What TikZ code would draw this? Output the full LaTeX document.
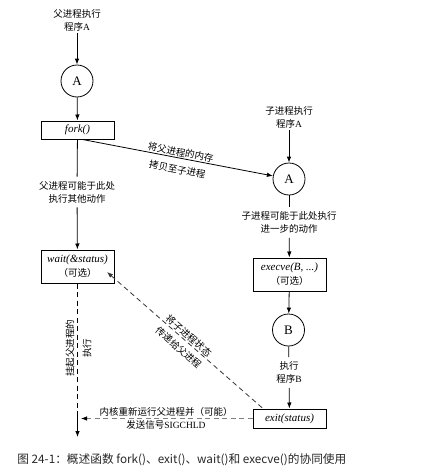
\documentclass[tikz,border=0pt]{standalone}
\usepackage{fontspec}
\setmainfont{Liberation Serif}
\newfontfamily\cjk{Noto Sans CJK SC}
\usetikzlibrary{arrows.meta,calc}
\begin{document}
\begin{tikzpicture}[x=1pt,y=-1pt,
  line width=0.8pt,
  arr/.style={-{Latex[length=6pt,width=4.5pt]}},
  lbl/.style={font=\fontsize{9.5}{13}\selectfont\cjk, align=center, inner sep=1pt},
  rlbl/.style={font=\fontsize{9.5}{17}\selectfont\cjk, align=center, inner sep=1pt},
  boxn/.style={draw, line width=1pt, minimum width=73pt, inner sep=0pt, align=center, font=\fontsize{11}{14}\selectfont\itshape},
  circ/.style={draw, circle, minimum size=32pt, inner sep=0pt, font=\fontsize{13}{13}\selectfont},
  dsh/.style={dash pattern=on 5pt off 3.5pt},
]
\useasboundingbox (0,0) rectangle (435,474);

% left column
\node[lbl] (t1) at (77,20.5) {父进程执行\\程序{\rmfamily A}};
\node[circ] (a1) at (77,81) {A};
\node[boxn, minimum height=18pt] (fork) at (77.5,130) {fork()};
\node[lbl, inner sep=4pt] (l1) at (77,192) {父进程可能于此处\\执行其他动作};
\node[boxn, minimum height=33pt] (wait) at (77.5,266.5) {wait(\&status)\\{\fontsize{9.5}{14}\selectfont\upshape\cjk （可选）}};

% right column
\node[lbl] (t2) at (289,117.5) {子进程执行\\程序{\rmfamily A}};
\node[circ] (a2) at (289,179) {A};
\node[lbl, inner sep=4pt] (l2) at (289,222.5) {子进程可能于此处执行\\进一步的动作};
\node[boxn, minimum height=33pt] (exec) at (289.5,274.5) {execve(B, ...)\\{\fontsize{9.5}{14}\selectfont\upshape\cjk （可选）}};
\node[circ] (b) at (288.5,330) {B};
\node[lbl, inner sep=4pt] (l3) at (289,372.5) {执行\\程序{\rmfamily B}};
\node[boxn, minimum height=19pt] (exit) at (289.5,418.5) {exit(status)};

% connectors
\draw[arr] (t1) -- (a1);
\draw[arr] (a1) -- (fork);
\draw (fork) -- (l1);
\draw[arr] (l1) -- (wait);
\draw[arr] (t2) -- (a2);
\draw (a2) -- (l2);
\draw[arr] (l2) -- (exec);
\draw[arr] (exec) -- (b);
\draw (b) -- (l3);
\draw[arr] (l3) -- (exit);

\draw[arr] ([xshift=5pt]fork.south) -- (a2)
  node[lbl, sloped, pos=0.51, above=0pt] (m1) {将父进程的内存}
  node[lbl, sloped, pos=0.51, below=6pt] (m2) {拷贝至子进程};

% wait suspension
\coordinate (kmid) at (77.5,413);
\coordinate (kbot) at (77.5,437);
\draw[dsh] (wait) -- (kmid);
\draw[arr] (kmid) -- (kbot);
\node[rlbl, rotate=90] (s1) at (78.5,348) {挂起父进程的\\执行};

% child status to parent
\coordinate (wtip) at (107,272);
\draw[{Latex[length=6pt,width=4.5pt]}-, dsh, draw=black!80] (wtip) -- ([xshift=-26.5pt]exit.north)
  node[lbl, sloped, pos=0.5, above=0pt] (m3) {将子进程状态}
  node[lbl, sloped, pos=0.5, below=4pt] (m4) {传递给父进程};

% kernel resumes parent
\coordinate (kin) at (81,418.5);
\draw[-{Latex[length=6pt,width=4.5pt,color=black]}, dsh, draw=black!50] (exit) -- (kin);
\node[lbl] (l4) at (166,418.5) {内核重新运行父进程并（可能）\\发送信号{\rmfamily SIGCHLD}};

% caption
\node[font=\fontsize{11.7}{13}\selectfont\cjk, text=black!85, anchor=west, inner sep=0pt] (cap) at (17,460) {图 24-1：概述函数 fork()、exit()、wait()和 execve()的协同使用};
\end{tikzpicture}
\end{document}
